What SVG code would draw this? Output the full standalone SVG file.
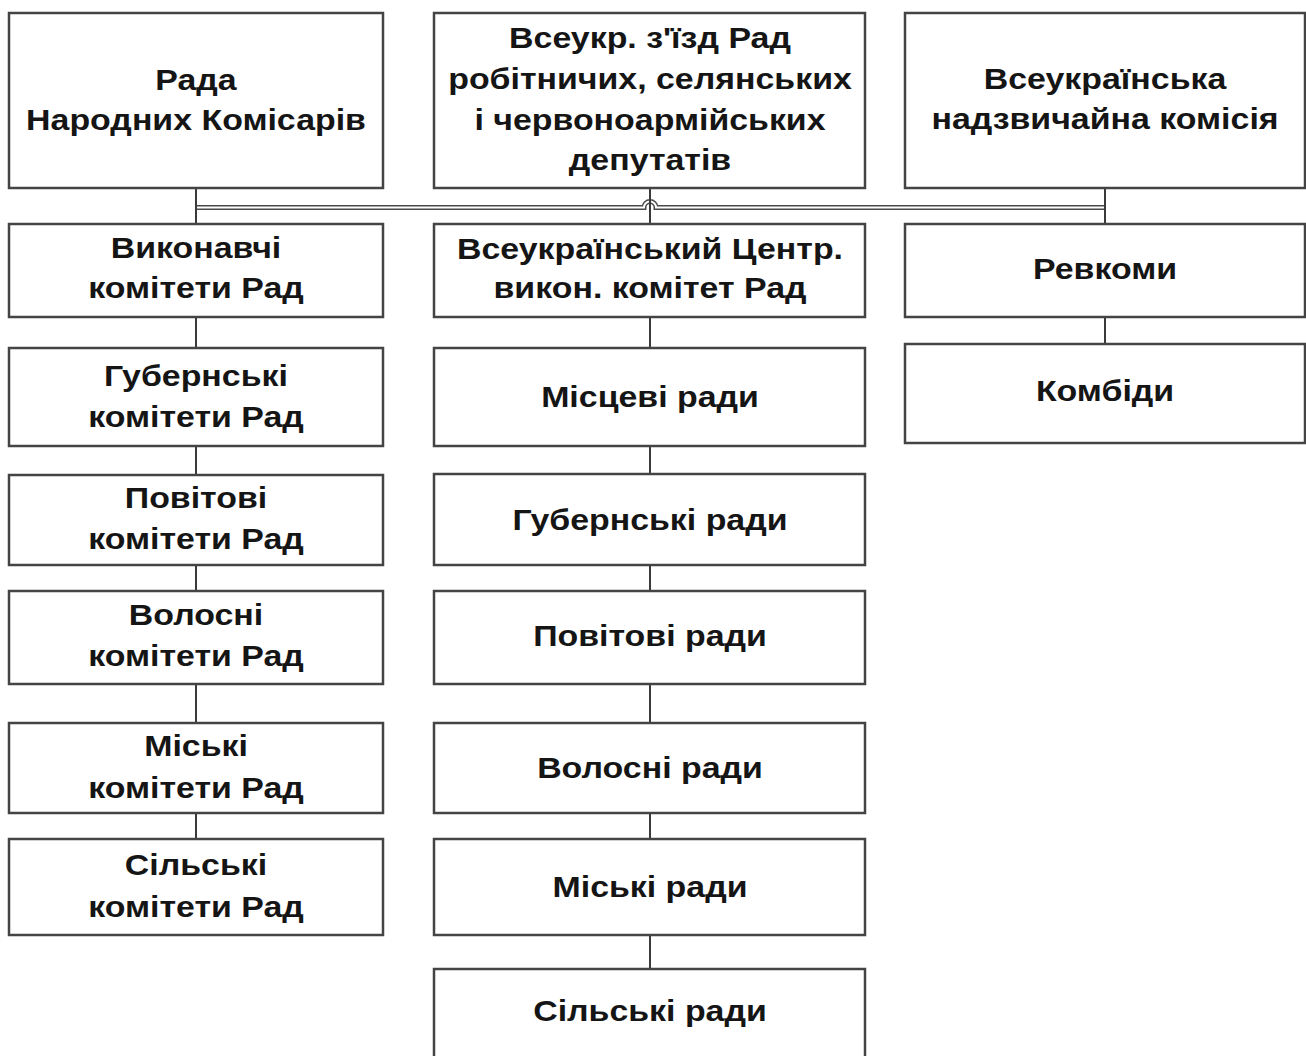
<svg xmlns="http://www.w3.org/2000/svg" width="1306" height="1056" viewBox="0 0 1306 1056">
<style>
.box{fill:#fff;stroke:#444;stroke-width:2.5}
.t{font-family:"Liberation Sans",Arial,sans-serif;font-weight:bold;font-size:30px;fill:#151515;text-anchor:middle}
.ln{fill:none;stroke:#3a3a3a;stroke-width:2}
</style>
<rect width="1306" height="1056" fill="#fff"/>
<g id="connectors">
<path d="M197 207.5 H644 A6 6 0 0 1 656 207.5 H1105" fill="none" stroke="#4a4a4a" stroke-width="5"/>
<path d="M197 207.5 H644 A6 6 0 0 1 656 207.5 H1105" fill="none" stroke="#fff" stroke-width="2"/>
<path class="ln" d="M196 188 V224 M196 317 V348 M196 446 V475 M196 565 V591 M196 684 V723 M196 813 V839"/>
<path class="ln" d="M650 188 V224 M650 317 V348 M650 446 V474 M650 565 V591 M650 684 V723 M650 813 V839 M650 935 V969"/>
<path class="ln" d="M1105 188 V224 M1105 317 V344"/>
</g>
<g id="rnk"><rect class="box" x="9" y="13" width="374" height="175"/>
<g transform="translate(196 0) scale(1.13 1)"><text class="t" x="0" y="90">Рада</text><text class="t" x="0" y="130">Народних Комісарів</text></g></g>
<g id="zizd"><rect class="box" x="434" y="13" width="431" height="175"/>
<g transform="translate(650 0) scale(1.13 1)"><text class="t" x="0" y="48">Всеукр. з'їзд Рад</text><text class="t" x="0" y="89">робітничих, селянських</text><text class="t" x="0" y="130">і червоноармійських</text><text class="t" x="0" y="170">депутатів</text></g></g>
<g id="vnk"><rect class="box" x="905" y="13" width="400" height="175"/>
<g transform="translate(1105 0) scale(1.13 1)"><text class="t" x="0" y="89">Всеукраїнська</text><text class="t" x="0" y="129">надзвичайна комісія</text></g></g>

<g id="vykonkom"><rect class="box" x="9" y="224" width="374" height="93"/>
<g transform="translate(196 0) scale(1.13 1)"><text class="t" x="0" y="258">Виконавчі</text><text class="t" x="0" y="298">комітети Рад</text></g></g>
<g id="gubkom"><rect class="box" x="9" y="348" width="374" height="98"/>
<g transform="translate(196 0) scale(1.13 1)"><text class="t" x="0" y="386">Губернські</text><text class="t" x="0" y="427">комітети Рад</text></g></g>
<g id="povkom"><rect class="box" x="9" y="475" width="374" height="90"/>
<g transform="translate(196 0) scale(1.13 1)"><text class="t" x="0" y="508">Повітові</text><text class="t" x="0" y="549">комітети Рад</text></g></g>
<g id="volkom"><rect class="box" x="9" y="591" width="374" height="93"/>
<g transform="translate(196 0) scale(1.13 1)"><text class="t" x="0" y="625">Волосні</text><text class="t" x="0" y="666">комітети Рад</text></g></g>
<g id="miskom"><rect class="box" x="9" y="723" width="374" height="90"/>
<g transform="translate(196 0) scale(1.13 1)"><text class="t" x="0" y="756">Міські</text><text class="t" x="0" y="798">комітети Рад</text></g></g>
<g id="silkom"><rect class="box" x="9" y="839" width="374" height="96"/>
<g transform="translate(196 0) scale(1.13 1)"><text class="t" x="0" y="875">Сільські</text><text class="t" x="0" y="917">комітети Рад</text></g></g>

<g id="cvk"><rect class="box" x="434" y="224" width="431" height="93"/>
<g transform="translate(650 0) scale(1.13 1)"><text class="t" x="0" y="259">Всеукраїнський Центр.</text><text class="t" x="0" y="298">викон. комітет Рад</text></g></g>
<g id="miscevi"><rect class="box" x="434" y="348" width="431" height="98"/>
<g transform="translate(650 0) scale(1.13 1)"><text class="t" x="0" y="407">Місцеві ради</text></g></g>
<g id="gubrady"><rect class="box" x="434" y="474" width="431" height="91"/>
<g transform="translate(650 0) scale(1.13 1)"><text class="t" x="0" y="530">Губернські ради</text></g></g>
<g id="povrady"><rect class="box" x="434" y="591" width="431" height="93"/>
<g transform="translate(650 0) scale(1.13 1)"><text class="t" x="0" y="646">Повітові ради</text></g></g>
<g id="volrady"><rect class="box" x="434" y="723" width="431" height="90"/>
<g transform="translate(650 0) scale(1.13 1)"><text class="t" x="0" y="778">Волосні ради</text></g></g>
<g id="miskrady"><rect class="box" x="434" y="839" width="431" height="96"/>
<g transform="translate(650 0) scale(1.13 1)"><text class="t" x="0" y="897">Міські ради</text></g></g>
<g id="silrady"><rect class="box" x="434" y="969" width="431" height="100"/>
<g transform="translate(650 0) scale(1.13 1)"><text class="t" x="0" y="1021">Сільські ради</text></g></g>

<g id="revkomy"><rect class="box" x="905" y="224" width="400" height="93"/>
<g transform="translate(1105 0) scale(1.13 1)"><text class="t" x="0" y="279">Ревкоми</text></g></g>
<g id="kombidy"><rect class="box" x="905" y="344" width="400" height="99"/>
<g transform="translate(1105 0) scale(1.13 1)"><text class="t" x="0" y="401">Комбіди</text></g></g>
</svg>
